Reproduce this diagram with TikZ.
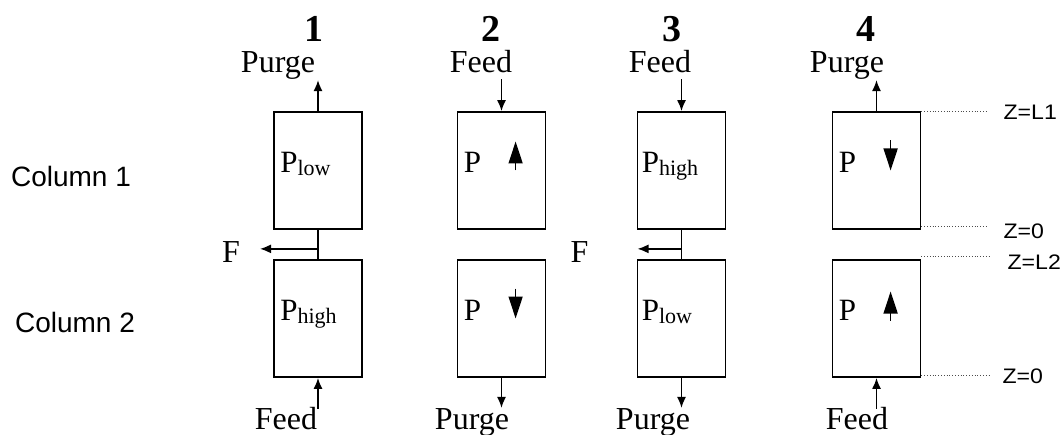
\documentclass[tikz,border=0pt]{standalone}
\usepackage{fontspec}
\setmainfont{Liberation Serif}
\setsansfont{Liberation Sans}
\usetikzlibrary{calc,positioning,arrows.meta}
\newcommand{\psub}[1]{\raisebox{-3pt}{\fontsize{22}{22}\selectfont #1}}
\newcommand{\zwide}[1]{\scalebox{1.1}[1]{#1}}

\begin{document}
\begin{tikzpicture}[x=1pt,y=-1pt,
colbox/.style={draw=black, line width=1.8pt, minimum width=88pt, minimum height=117pt, inner sep=0pt},
flow/.style={-{Latex[length=11pt,width=9pt]}, line width=1.5pt},
dirarrow/.style={-{Triangle[length=22pt,width=14pt]}, line width=1.5pt},
lbl/.style={font=\fontsize{32}{32}\selectfont, inner sep=0pt, anchor=base},
stepno/.style={font=\bfseries\fontsize{38}{38}\selectfont, inner sep=0pt, anchor=base},
plbl/.style={font=\fontsize{31}{31}\selectfont, inner sep=0pt, anchor=base west},
zmark/.style={dotted, line width=0.8pt, draw=black!70},
zlbl/.style={font=\sffamily\fontsize{21}{21}\selectfont, inner sep=0pt, anchor=west},
collbl/.style={font=\sffamily\fontsize{28}{28}\selectfont, inner sep=0pt},
]
\useasboundingbox (0,0) rectangle (1064,435);
%Columns
\node[colbox] (up1) at (318,170.5) {};
\node[colbox] (lo1) at (318,318.5) {};
\node[colbox] (up2) at (501.5,170.5) {};
\node[colbox] (lo2) at (501.5,318.5) {};
\node[colbox] (up3) at (681.5,170.5) {};
\node[colbox] (lo3) at (681.5,318.5) {};
\node[colbox] (up4) at (876.5,170.5) {};
\node[colbox] (lo4) at (876.5,318.5) {};
\node[collbl] (col1) at (71,176) {Column 1};
\node[collbl] (col2) at (75,322) {Column 2};
%Pressures
\node[plbl] (p1a) at ($(up1.west)+(7,2)$) {P\psub{low}};
\node[plbl] (p1b) at ($(lo1.west)+(7,2)$) {P\psub{high}};
\node[plbl] (p2a) at ($(up2.west)+(7,2)$) {P};
\node[plbl] (p2b) at ($(lo2.west)+(7,2)$) {P};
\node[plbl] (p3a) at ($(up3.west)+(5,2)$) {P\psub{high}};
\node[plbl] (p3b) at ($(lo3.west)+(5,2)$) {P\psub{low}};
\node[plbl] (p4a) at ($(up4.west)+(7,2)$) {P};
\node[plbl] (p4b) at ($(lo4.west)+(7,2)$) {P};
\draw[dirarrow] ($(up2.west)+(59,0)$) -- ($(up2.west)+(59,-29)$);
\draw[dirarrow] ($(lo2.west)+(59,-30)$) -- ($(lo2.west)+(59,0)$);
\draw[dirarrow] ($(up4.west)+(59,-30)$) -- ($(up4.west)+(59,0)$);
\draw[dirarrow] ($(lo4.west)+(59,2)$) -- ($(lo4.west)+(59,-27)$);
%Steps
\node[stepno] (n1) at (314,42) {1};
\node[stepno] (n2) at (491,42) {2};
\node[stepno] (n3) at (672,42) {3};
\node[stepno] (n4) at (866,42) {4};
\node[lbl] (top1) at (278,73) {Purge};
\node[lbl] (top2) at (481,73) {Feed};
\node[lbl] (top3) at (660,73) {Feed};
\node[lbl] (top4) at (847,73) {Purge};
\node[lbl] (bot1) at (286,429) {Feed};
\node[lbl] (bot2) at (472,429) {Purge};
\node[lbl] (bot3) at (653,429) {Purge};
\node[lbl] (bot4) at (857,429) {Feed};
%Lines
\coordinate (out1) at ($(up1.north)+(0,-31)$);
\coordinate (in2) at ($(up2.north)+(0,-32)$);
\coordinate (in3) at ($(up3.north)+(0,-32)$);
\coordinate (out4) at ($(up4.north)+(0,-31)$);
\draw[flow] (up1.north) -- (out1);
\draw[flow] (in2) -- (up2.north);
\draw[flow] (in3) -- (up3.north);
\draw[flow] (up4.north) -- (out4);
\coordinate (in1) at ($(lo1.south)+(0,31)$);
\coordinate (out2) at ($(lo2.south)+(0,30)$);
\coordinate (out3) at ($(lo3.south)+(0,30)$);
\coordinate (in4) at ($(lo4.south)+(0,31)$);
\draw[flow] (in1) -- (lo1.south);
\draw[flow] (lo2.south) -- (out2);
\draw[flow] (lo3.south) -- (out3);
\draw[flow] (in4) -- (lo4.south);
% F draw-off
\draw[line width=1.5pt] (up1.south) -- (lo1.north);
\draw[line width=1.5pt] (up3.south) -- (lo3.north);
\coordinate (j1) at ($(up1.south)!0.65!(lo1.north)$);
\coordinate (j3) at ($(up3.south)!0.65!(lo3.north)$);
\coordinate (f1) at ($(j1)+(-58,0)$);
\coordinate (f3) at ($(j3)+(-44,0)$);
\draw[flow] (j1) -- (f1);
\draw[flow] (j3) -- (f3);
\node[lbl, anchor=east] (fl1) at ($(f1)+(-20,3)$) {F};
\node[lbl, anchor=east] (fl3) at ($(f3)+(-49,3)$) {F};
% Z axis
\coordinate (zt1) at ($(up4.north east)+(66,0)$);
\coordinate (zb1) at ($(up4.south east)+(66,-3)$);
\coordinate (zt2) at ($(lo4.north east)+(69,-3)$);
\coordinate (zb2) at ($(lo4.south east)+(69,-3)$);
\draw[zmark] (up4.north east) -- (zt1);
\draw[zmark] ($(up4.south east)+(0,-3)$) -- (zb1);
\draw[zmark] ($(lo4.north east)+(0,-3)$) -- (zt2);
\draw[zmark] ($(lo4.south east)+(0,-3)$) -- (zb2);
\node[zlbl] (z1) at ($(zt1)+(16,1)$) {\zwide{Z=L1}};
\node[zlbl] (z2) at ($(zb1)+(16,4)$) {\zwide{Z=0}};
\node[zlbl] (z3) at ($(zt2)+(17,6)$) {\zwide{Z=L2}};
\node[zlbl] (z4) at ($(zb2)+(12,1)$) {\zwide{Z=0}};
\end{tikzpicture}
\end{document}
